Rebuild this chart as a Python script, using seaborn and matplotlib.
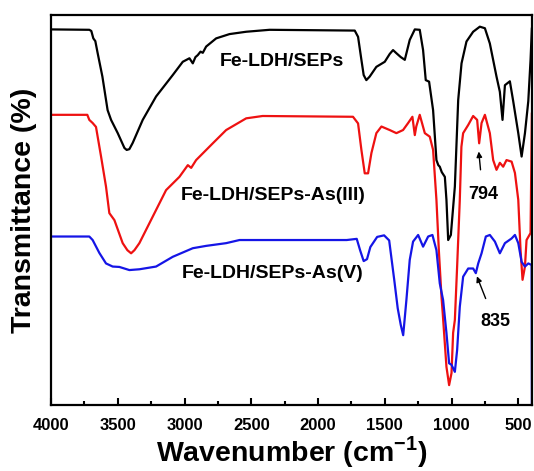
import numpy as np
import pandas as pd
import matplotlib
matplotlib.use("Agg")
import matplotlib.pyplot as plt
from matplotlib.ticker import MultipleLocator
import seaborn as sns

# FTIR spectra (wavenumber in cm-1, transmittance in arbitrary offset units)
wn_sep = [4000, 3713, 3698, 3683, 3668, 3651, 3615, 3576, 3550, 3500, 3450, 3433,
          3413, 3388, 3313, 3213, 3088, 3013, 2963, 2938, 2918, 2901, 2880, 2863,
          2838, 2763, 2663, 2538, 2363, 1725, 1700, 1675, 1658, 1638, 1613, 1563,
          1500, 1463, 1438, 1413, 1380, 1350, 1313, 1275, 1238, 1213, 1193, 1168,
          1138, 1113, 1099, 1088, 1073, 1050, 1038, 1025, 1005, 975, 950, 925, 888,
          838, 788, 750, 713, 663, 638, 618, 600, 563, 538, 500, 475, 450, 425,
          408, 398]
t_sep = [96.3, 96.2, 95.9, 94.0, 93.3, 90.3, 84.2, 75.6, 73.1, 69.7, 65.9, 65.4,
         65.6, 67.2, 73.1, 79.1, 84.6, 88.0, 88.9, 87.6, 89.2, 89.7, 90.6, 90.3,
         91.9, 94.0, 95.1, 95.7, 96.2, 96.0, 94.4, 88.5, 84.6, 83.3, 84.2, 86.7,
         88.0, 90.0, 91.0, 90.2, 89.2, 88.5, 93.6, 96.3, 96.2, 91.0, 83.3, 82.9,
         75.6, 62.8, 61.5, 61.1, 59.7, 58.5, 52.6, 42.3, 43.6, 56.0, 78.2, 87.6, 93.2,
         95.7, 97.0, 96.6, 92.7, 84.2, 80.3, 73.1, 82.0, 83.0, 77.9, 69.7, 63.7, 69.7, 77.9,
         88.5, 96.7]

wn_as3 = [4000, 3728, 3713, 3688, 3663, 3625, 3588, 3563, 3525, 3463, 3428, 3400,
          3375, 3338, 3238, 3138, 3038, 2975, 2950, 2913, 2788, 2688, 2538, 2415,
          1738, 1700, 1675, 1650, 1625, 1600, 1563, 1525, 1463, 1413, 1363, 1325,
          1293, 1275, 1264, 1238, 1200, 1163, 1138, 1113, 1095, 1075, 1066, 1038,
          1018, 1000, 988, 975, 958, 938, 926, 913, 875, 838, 808, 793, 775, 750,
          713, 688, 663, 638, 613, 588, 550, 525, 500, 483, 468, 450, 438, 408, 398]
t_as3 = [74.4, 74.4, 73.1, 72.3, 71.3, 63.7, 56.0, 49.2, 47.4, 41.5, 39.7, 38.9,
         39.7, 41.5, 48.3, 55.1, 58.5, 61.5, 60.8, 62.8, 67.1, 70.5, 73.5, 74.1,
         73.9, 72.2, 65.4, 59.4, 59.4, 64.6, 69.7, 71.4, 70.5, 69.7, 70.5, 72.3,
         73.9, 69.2, 71.4, 74.4, 69.7, 68.8, 65.4, 52.6, 39.7, 27.7, 23.6, 9.8,
         5.1, 8.2, 18.5, 21.8, 35.5, 52.6, 66.2, 69.7, 71.8, 74.1, 73.1, 67.1, 72.3, 74.4,
         69.7, 62.8, 60.3, 62.1, 61.1, 62.8, 62.4, 59.5, 52.6, 39.7, 32.1, 35.5, 42.3, 44.1, 74.9]

wn_as5 = [4000, 3713, 3688, 3638, 3588, 3538, 3488, 3413, 3338, 3213, 3088, 2938,
          2838, 2688, 2588, 2438, 1785, 1710, 1684, 1658, 1633, 1608, 1557, 1505,
          1467, 1428, 1403, 1380, 1362, 1338, 1313, 1288, 1250, 1213, 1175, 1143,
          1113, 1088, 1063, 1038, 1018, 1000, 975, 958, 938, 913, 875, 838, 818,
          800, 775, 743, 713, 675, 638, 600, 550, 525, 500, 475, 450, 425, 400, 398]
t_as5 = [43.2, 43.2, 42.3, 39.0, 36.3, 35.5, 35.4, 34.6, 34.8, 35.5, 38.0, 40.2,
         40.8, 41.5, 42.3, 42.3, 42.3, 42.6, 39.6, 36.9, 37.4, 40.5, 43.1, 43.5,
         42.2, 31.8, 24.8, 20.5, 17.9, 26.9, 37.2, 41.9, 43.6, 40.6, 43.2, 43.6,
         39.7, 31.2, 26.9, 18.5, 10.7, 10.3, 8.5, 14.1, 25.2, 32.9, 35.0, 35.0, 33.8,
         36.3, 38.9, 43.2, 43.6, 41.9, 38.9, 41.5, 42.7, 43.6, 41.5, 36.7, 35.5, 36.3, 35.9, 0.0]

samples = ["Fe-LDH/SEPs", "Fe-LDH/SEPs-As(III)", "Fe-LDH/SEPs-As(V)"]
colors = ["black", "#ee1111", "#1515e6"]

df = pd.concat([
    pd.DataFrame({"wn": wn_sep, "T": t_sep, "sample": samples[0]}),
    pd.DataFrame({"wn": wn_as3, "T": t_as3, "sample": samples[1]}),
    pd.DataFrame({"wn": wn_as5, "T": t_as5, "sample": samples[2]}),
], ignore_index=True)

sns.set_theme(style="ticks")
plt.rcParams['font.family'] = ['Liberation Sans', 'DejaVu Sans']
plt.rcParams['font.weight'] = 'bold'
plt.rcParams['text.color'] = 'black'
plt.rcParams['axes.labelcolor'] = 'black'
plt.rcParams['xtick.color'] = 'black'
plt.rcParams['mathtext.fontset'] = 'custom'
plt.rcParams['mathtext.rm'] = 'Liberation Sans:bold'
plt.rcParams['mathtext.bf'] = 'Liberation Sans:bold'

fig = plt.figure(figsize=(5.34, 4.71), dpi=100)
ax = fig.add_axes([0.0955, 0.1401, 0.9008, 0.8281])

sns.lineplot(data=df, x="wn", y="T", hue="sample", palette=colors,
             sort=False, estimator=None, units="sample", legend=False,
             linewidth=1.6, ax=ax)

ax.set_xlim(4000, 397)
ax.set_ylim(0, 100)
ax.xaxis.set_major_locator(MultipleLocator(500))
ax.xaxis.set_minor_locator(MultipleLocator(250))
ax.set_yticks([])
ax.tick_params(axis='x', which='major', direction='in', length=5, width=1.5,
               labelsize=12, pad=9, colors='black')
ax.tick_params(axis='x', which='minor', direction='in', length=3, width=1.5, colors='black')
for lab in ax.get_xticklabels():
    lab.set_fontweight('bold')
for sp in ax.spines.values():
    sp.set_linewidth(1.6)
    sp.set_color('black')

ax.set_xlabel(r'Wavenumber (cm$^{-1}$)', fontsize=20.5, fontweight='bold',
              labelpad=1, color='black')
ax.set_ylabel('Transmittance (%)', fontsize=20.5, fontweight='bold',
              labelpad=10, color='black')

# sample labels
ax.text(2273, 88.2, samples[0], ha='center', va='center', fontsize=14, fontweight='bold')
ax.text(2332, 53.6, samples[1], ha='center', va='center', fontsize=14, fontweight='bold')
ax.text(2340, 33.6, samples[2], ha='center', va='center', fontsize=14, fontweight='bold')

# band annotations
ax.annotate('794', xy=(796, 65.0), xytext=(765, 54.1), ha='center', va='center',
            fontsize=13, fontweight='bold',
            arrowprops=dict(arrowstyle='-|>', color='black', lw=1, shrinkA=9, shrinkB=0,
                            mutation_scale=8))
ax.annotate('835', xy=(810, 33.0), xytext=(675, 21.3), ha='center', va='center',
            fontsize=13, fontweight='bold',
            arrowprops=dict(arrowstyle='-|>', color='black', lw=1, shrinkA=9, shrinkB=0,
                            mutation_scale=8))

fig.savefig('out.png', dpi=100)
